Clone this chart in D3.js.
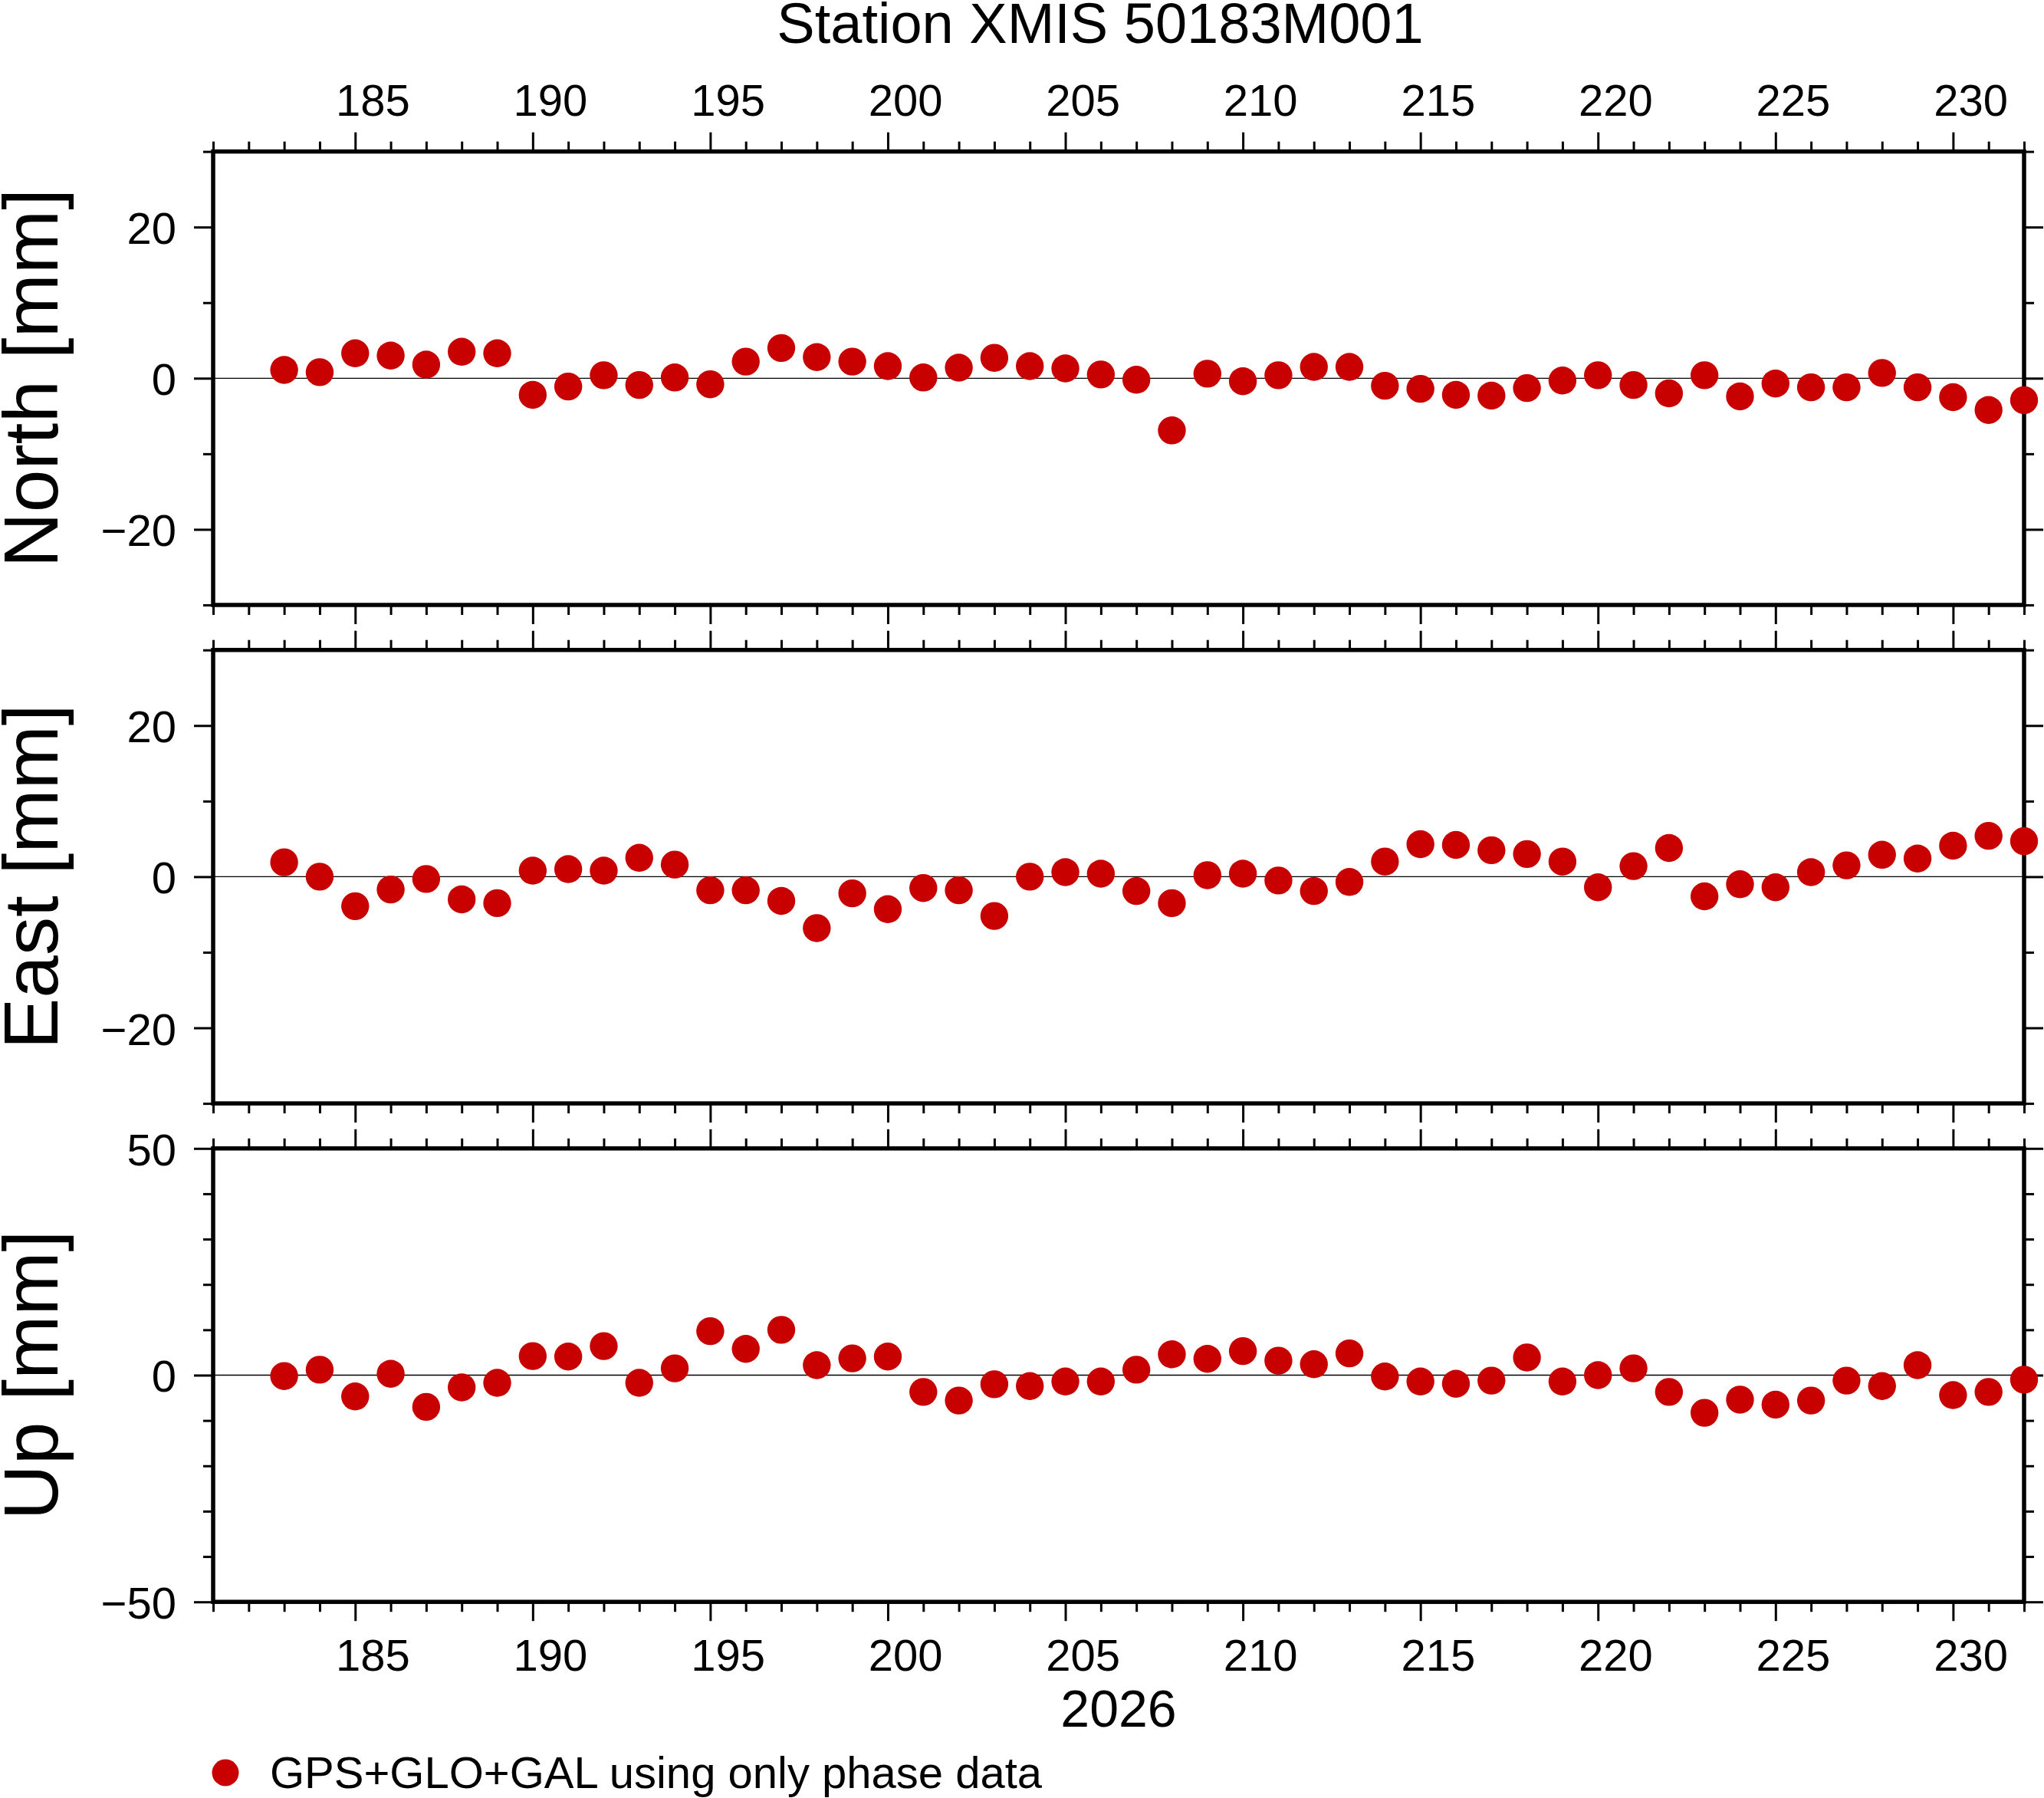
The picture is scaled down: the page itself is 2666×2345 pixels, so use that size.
<!DOCTYPE html>
<html>
<head>
<meta charset="utf-8">
<script src="https://cdn.jsdelivr.net/npm/d3@7"></script>
<style>
  body { margin: 0; background: #fff; }
  svg { display: block; background: #fff; }
  text { font-family: "Liberation Sans", Arial, Helvetica, sans-serif; fill: #000; }
</style>
</head>
<body>
<svg id="chart" width="2666" height="2345"></svg>
<script>
// ---------------- data ----------------
const titleText = "Station XMIS 50183M001";
const yearLabel = "2026";
const legendLabel = "GPS+GLO+GAL using only phase data";

const days = [183,184,185,186,187,188,189,190,191,192,193,194,195,196,197,198,199,200,
  201,202,203,204,205,206,207,208,209,210,211,212,213,214,215,216,217,218,219,220,
  221,222,223,224,225,226,227,228,229,230,231,232];

const north = [1.1,0.8,3.3,3.0,1.8,3.5,3.3,-2.2,-1.1,0.4,-0.9,0.1,-0.8,2.2,4.0,2.8,2.2,1.6,
  0.1,1.4,2.7,1.6,1.3,0.5,-0.2,-6.9,0.6,-0.4,0.4,1.5,1.5,-1.0,-1.4,-2.2,-2.3,-1.3,-0.3,0.4,
  -0.9,-2.0,0.4,-2.4,-0.7,-1.2,-1.2,0.7,-1.2,-2.5,-4.2,-2.9];

const east = [1.9,0.0,-3.9,-1.7,-0.3,-3.0,-3.5,0.8,1.0,0.8,2.5,1.6,-1.8,-1.8,-3.2,-6.8,-2.2,-4.3,
  -1.5,-1.8,-5.2,0.0,0.6,0.4,-1.9,-3.5,0.2,0.4,-0.5,-1.9,-0.7,2.0,4.3,4.2,3.5,3.0,2.0,-1.4,
  1.4,3.8,-2.6,-1.0,-1.4,0.6,1.5,2.9,2.4,4.1,5.4,4.7];

const up = [-0.2,1.2,-4.7,0.3,-7.0,-2.7,-1.7,4.2,4.1,6.4,-1.7,1.5,9.7,5.8,10.0,2.2,3.7,4.1,
  -3.7,-5.6,-2.0,-2.4,-1.4,-1.4,1.2,4.6,3.6,5.3,3.2,2.4,4.8,-0.3,-1.4,-1.9,-1.2,3.9,-1.4,0.0,
  1.5,-3.7,-8.3,-5.4,-6.5,-5.6,-1.2,-2.4,2.2,-4.4,-3.7,-1.0];

const xDomain = [181, 232];
const xMajorTicks = [185,190,195,200,205,210,215,220,225,230];
const xMinorTicks = [181,182,183,184,186,187,188,189,191,192,193,194,196,197,198,199,
  201,202,203,204,206,207,208,209,211,212,213,214,216,217,218,219,221,222,223,224,
  226,227,228,229,231,232];

const panelNames = ["North [mm]", "East [mm]", "Up [mm]"];
const panelSeries = [north, east, up];
const panelDomains = [[-30, 30], [-30, 30], [-50, 50]];
const panelMajorTicks = [[-20, 0, 20], [-20, 0, 20], [-50, 0, 50]];
const panelMinorTicks = [[-30, -10, 10, 30], [-30, -10, 10, 30],
  [-40, -30, -20, -10, 10, 20, 30, 40]];

// ---------------- layout ----------------
const X0 = 278, X1 = 2640;
const TOP = 197.6, PH = 591.4, GAP = 58.7;
const RED = "#c80000";
const fmt = d => d < 0 ? "\u2212" + Math.abs(d) : String(d);

const svg = d3.select("#chart");
const x = d3.scaleLinear().domain(xDomain).range([X0, X1]);

function styleAxis(g, width) {
  g.select(".domain").remove();
  g.attr("font-family", null).attr("font-size", null);
  g.selectAll(".tick line").attr("stroke", "#000").attr("stroke-width", width);
}

panelNames.forEach((name, i) => {
  const top = TOP + i * (PH + GAP);
  const bottom = top + PH;
  const y = d3.scaleLinear().domain(panelDomains[i]).range([bottom, top]);
  const g = svg.append("g");

  // zero line
  g.append("line")
    .attr("x1", X0).attr("x2", X1)
    .attr("y1", y(0)).attr("y2", y(0))
    .attr("stroke", "#000").attr("stroke-width", 1.3);

  // y axes (left with labels, right without)
  g.append("g").attr("transform", `translate(${X0},0)`)
    .call(d3.axisLeft(y).tickValues(panelMajorTicks[i]).tickSize(25).tickPadding(23).tickFormat(fmt))
    .call(a => styleAxis(a, 3))
    .call(a => a.selectAll(".tick text").attr("font-size", 58).attr("dy", "0.37em").attr("fill", "#000"));
  g.append("g").attr("transform", `translate(${X0},0)`)
    .call(d3.axisLeft(y).tickValues(panelMinorTicks[i]).tickSize(13).tickFormat(""))
    .call(a => styleAxis(a, 3));
  g.append("g").attr("transform", `translate(${X1},0)`)
    .call(d3.axisRight(y).tickValues(panelMajorTicks[i]).tickSize(25).tickFormat(""))
    .call(a => styleAxis(a, 3));
  g.append("g").attr("transform", `translate(${X1},0)`)
    .call(d3.axisRight(y).tickValues(panelMinorTicks[i]).tickSize(13).tickFormat(""))
    .call(a => styleAxis(a, 3));

  // x axes (top and bottom ticks)
  g.append("g").attr("transform", `translate(0,${top})`)
    .call(d3.axisTop(x).tickValues(xMajorTicks).tickSize(25).tickFormat(""))
    .call(a => styleAxis(a, 3));
  g.append("g").attr("transform", `translate(0,${top})`)
    .call(d3.axisTop(x).tickValues(xMinorTicks).tickSize(13).tickFormat(""))
    .call(a => styleAxis(a, 3));
  g.append("g").attr("transform", `translate(0,${bottom})`)
    .call(d3.axisBottom(x).tickValues(xMajorTicks).tickSize(25).tickFormat(""))
    .call(a => styleAxis(a, 3));
  g.append("g").attr("transform", `translate(0,${bottom})`)
    .call(d3.axisBottom(x).tickValues(xMinorTicks).tickSize(13).tickFormat(""))
    .call(a => styleAxis(a, 3));

  // frame
  g.append("rect")
    .attr("x", X0).attr("y", top)
    .attr("width", X1 - X0).attr("height", PH)
    .attr("fill", "none").attr("stroke", "#000").attr("stroke-width", 5.5);

  // points
  g.append("g").selectAll("circle")
    .data(days.map((d, k) => [d, panelSeries[i][k]]))
    .join("circle")
    .attr("cx", d => x(d[0]))
    .attr("cy", d => y(d[1]))
    .attr("r", 18.2)
    .attr("fill", RED);

  // y label
  g.append("text")
    .attr("transform", `translate(75,${(top + bottom) / 2}) rotate(-90)`)
    .attr("text-anchor", "middle")
    .attr("font-size", 100)
    .text(name);

  // x annotations (interval-centred)
  if (i === 0) {
    g.append("g").selectAll("text").data(xMajorTicks).join("text")
      .attr("x", d => x(d + 0.5)).attr("y", top - 47)
      .attr("text-anchor", "middle").attr("font-size", 58)
      .text(d => d);
  }
  if (i === panelNames.length - 1) {
    g.append("g").selectAll("text").data(xMajorTicks).join("text")
      .attr("x", d => x(d + 0.5)).attr("y", bottom + 90)
      .attr("text-anchor", "middle").attr("font-size", 58)
      .text(d => d);
    g.append("text")
      .attr("x", (X0 + X1) / 2).attr("y", bottom + 163)
      .attr("text-anchor", "middle").attr("font-size", 68)
      .text(yearLabel);
  }
});

// title
svg.append("text")
  .attr("x", 1435).attr("y", 56)
  .attr("text-anchor", "middle").attr("font-size", 74)
  .text(titleText);

// legend
svg.append("circle").attr("cx", 294).attr("cy", 2312).attr("r", 17.5).attr("fill", RED);
svg.append("text").attr("x", 352).attr("y", 2332).attr("font-size", 58).text(legendLabel);
</script>
</body>
</html>
